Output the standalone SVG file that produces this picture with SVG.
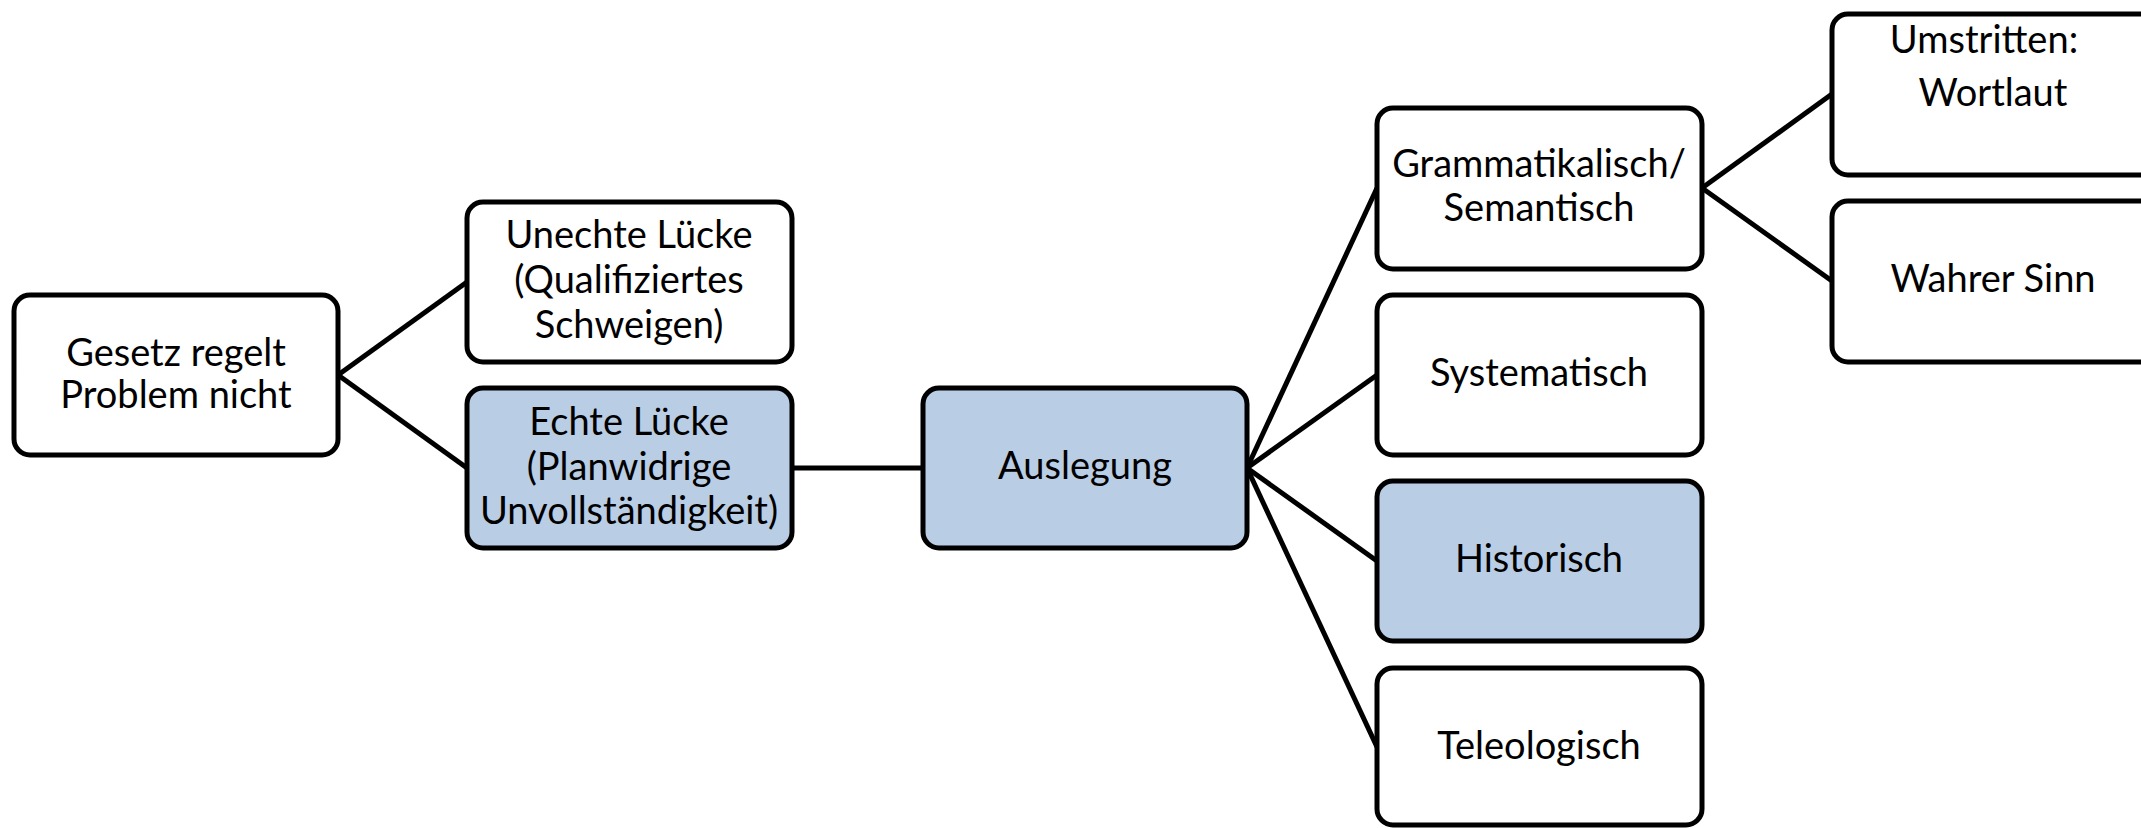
<svg xmlns="http://www.w3.org/2000/svg" width="2141" height="828" viewBox="0 0 2141 828">
<style>
.box{fill:#ffffff;stroke:#000000;stroke-width:5}
.hl{fill:#B9CDE5}
.t{font-family:Lato,"Open Sans","Liberation Sans",sans-serif;font-size:38px;fill:#000000;text-anchor:middle}
.c{stroke:#000000;stroke-width:5;fill:none}
</style>
<rect width="2141" height="828" fill="#ffffff"/>
<g id="connectors">
<line class="c" x1="338" y1="375" x2="467" y2="282"/>
<line class="c" x1="338" y1="375" x2="467" y2="468"/>
<line class="c" x1="792" y1="468" x2="923" y2="468"/>
<line class="c" x1="1247" y1="468" x2="1377" y2="188"/>
<line class="c" x1="1247" y1="468" x2="1377" y2="375"/>
<line class="c" x1="1247" y1="468" x2="1377" y2="561"/>
<line class="c" x1="1247" y1="468" x2="1377" y2="747"/>
<line class="c" x1="1702" y1="188" x2="1832" y2="94"/>
<line class="c" x1="1702" y1="188" x2="1832" y2="281"/>
</g>
<g id="gesetz">
<rect class="box" x="14" y="295" width="324" height="160" rx="16"/>
<text class="t" x="176" y="366">Gesetz regelt</text>
<text class="t" x="176" y="408">Problem nicht</text>
</g>
<g id="unechte">
<rect class="box" x="467" y="202" width="325" height="160" rx="16"/>
<text class="t" x="629" y="248">Unechte Lücke</text>
<text class="t" x="629" y="293">(Qualifiziertes</text>
<text class="t" x="629" y="338">Schweigen)</text>
</g>
<g id="echte">
<rect class="box hl" x="467" y="388" width="325" height="160" rx="16"/>
<text class="t" x="629" y="435">Echte Lücke</text>
<text class="t" x="629" y="480">(Planwidrige</text>
<text class="t" x="629" y="524">Unvollständigkeit)</text>
</g>
<g id="auslegung">
<rect class="box hl" x="923" y="388" width="324" height="160" rx="16"/>
<text class="t" x="1085" y="479">Auslegung</text>
</g>
<g id="grammatikalisch">
<rect class="box" x="1377" y="108" width="325" height="161" rx="16"/>
<text class="t" x="1539" y="177">Grammatikalisch/</text>
<text class="t" x="1539" y="221">Semantisch</text>
</g>
<g id="systematisch">
<rect class="box" x="1377" y="295" width="325" height="160" rx="16"/>
<text class="t" x="1539" y="386">Systematisch</text>
</g>
<g id="historisch">
<rect class="box hl" x="1377" y="481" width="325" height="160" rx="16"/>
<text class="t" x="1539" y="572">Historisch</text>
</g>
<g id="teleologisch">
<rect class="box" x="1377" y="668" width="325" height="157" rx="16"/>
<text class="t" x="1539" y="759">Teleologisch</text>
</g>
<g id="umstritten">
<rect class="box" x="1832" y="14" width="325" height="161" rx="16"/>
<text class="t" x="1984" y="53">Umstritten:</text>
<text class="t" x="1993" y="106">Wortlaut</text>
</g>
<g id="wahrer-sinn">
<rect class="box" x="1832" y="201" width="325" height="161" rx="16"/>
<text class="t" x="1993" y="292">Wahrer Sinn</text>
</g>
</svg>
